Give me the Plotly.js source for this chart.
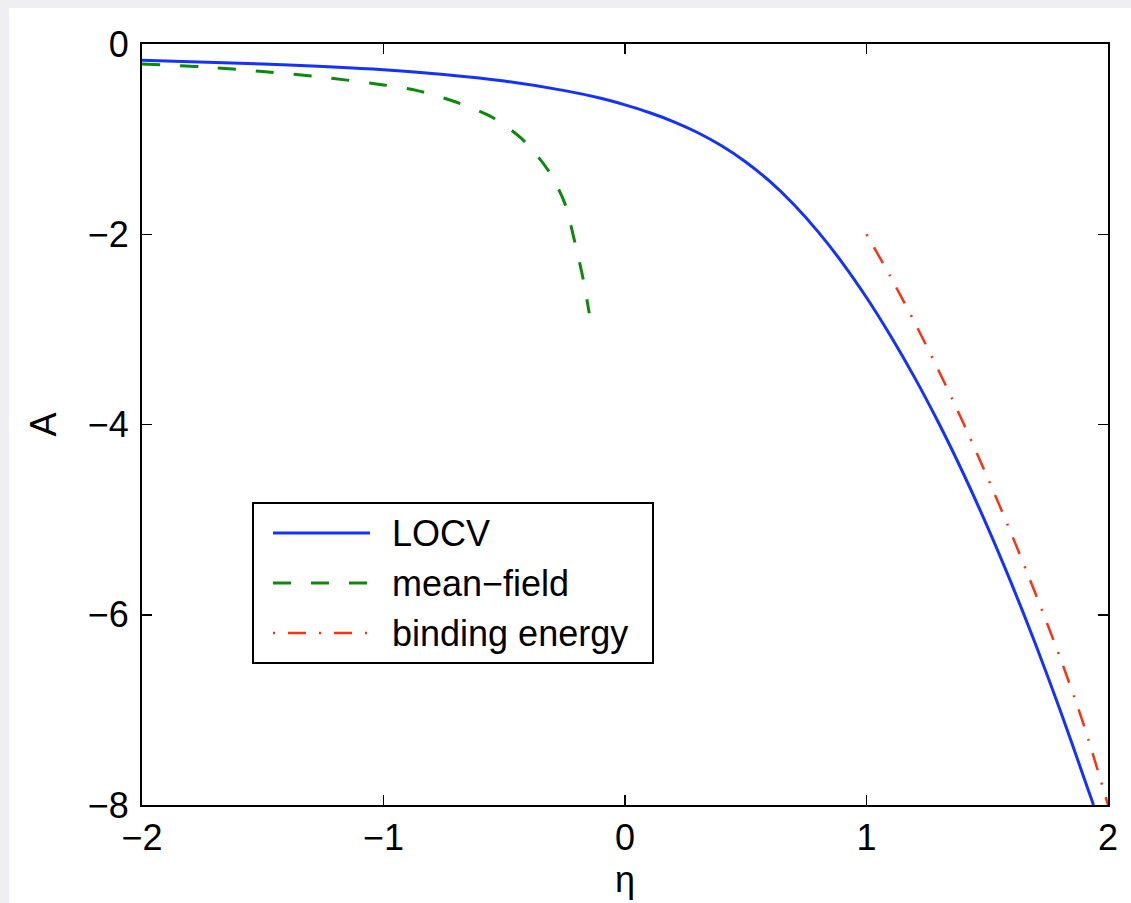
<!DOCTYPE html>
<html>
<head>
<meta charset="utf-8">
<script src="https://cdn.plot.ly/plotly-3.0.1.min.js"></script>
<style>
  html, body { margin: 0; padding: 0; background: #efeef3; width: 1131px; height: 903px; overflow: hidden; }
  #chart { position: absolute; left: 9px; top: 8px; width: 1122px; height: 895px; background: #ffffff; }
</style>
</head>
<body>
<div id="chart"></div>
<script>
// ---- data ----
const seriesNames = ["LOCV", "mean\u2212field", "binding energy"];

const etaLocv = [-2, -1.5, -1, -0.75, -0.5, -0.25, -0.1, 0, 0.1, 0.2, 0.3, 0.4, 0.5, 0.6, 0.7, 0.8, 0.9, 1.0, 1.1, 1.2, 1.3, 1.4, 1.5, 1.6, 1.7, 1.8, 1.9, 1.94];
const aLocv   = [-0.17, -0.21, -0.27, -0.32, -0.39, -0.49, -0.57, -0.64, -0.72, -0.815, -0.93, -1.07, -1.24, -1.445, -1.69, -1.975, -2.30, -2.665, -3.07, -3.51, -3.99, -4.51, -5.07, -5.67, -6.31, -6.99, -7.71, -8.0];

const etaMean = [-2, -1.75, -1.5, -1.25, -1.0, -0.86, -0.7, -0.55, -0.43, -0.32, -0.25, -0.21, -0.175, -0.148];
const aMean   = [-0.21, -0.24, -0.29, -0.35, -0.43, -0.49, -0.61, -0.77, -0.99, -1.32, -1.67, -2.06, -2.45, -2.83];

const etaBind = [1.0, 1.1, 1.2, 1.3, 1.4, 1.5, 1.6, 1.7, 1.8, 1.9, 2.0];
const aBind   = [-2.0, -2.45, -2.93, -3.44, -3.98, -4.55, -5.15, -5.78, -6.44, -7.16, -8.0];

const xTicks = [-2, -1, 0, 1, 2];
const yTicks = [-8, -6, -4, -2, 0];

// ---- styles ----
const styles = [
  { color: "#1432ff", width: 3, dash: "solid" },
  { color: "#0a8a0a", width: 3, dash: "18px,20px" },
  { color: "#ff3010", width: 2.5, dash: "2px,13px,18px,13px" }
];
const FONT = "Liberation Sans, Arial, Helvetica, sans-serif";

const traces = [
  { x: etaLocv, y: aLocv, name: seriesNames[0], mode: "lines", line: { color: styles[0].color, width: styles[0].width, dash: styles[0].dash, shape: "spline", smoothing: 0.8 } },
  { x: etaMean, y: aMean, name: seriesNames[1], mode: "lines", line: { color: styles[1].color, width: styles[1].width, dash: styles[1].dash, shape: "spline", smoothing: 0.8 } },
  { x: etaBind, y: aBind, name: seriesNames[2], mode: "lines", line: { color: styles[2].color, width: styles[2].width, dash: styles[2].dash, shape: "spline", smoothing: 0.8 } }
];

// custom legend box (paper coordinates)
const legBox = { x0: 0.1149, x1: 0.529, y0: 0.1866, y1: 0.3968 };
const legRows = [0.3574, 0.2917, 0.2260];
const legLineX = [0.1356, 0.2360];
const legTextX = 0.2570;

const shapes = [
  { type: "rect", xref: "paper", yref: "paper", x0: legBox.x0, x1: legBox.x1, y0: legBox.y0, y1: legBox.y1,
    line: { color: "#000", width: 2 }, fillcolor: "#ffffff", layer: "above" }
];
const annotations = [];
seriesNames.forEach((n, i) => {
  shapes.push({ type: "line", xref: "paper", yref: "paper", x0: legLineX[0], x1: legLineX[1], y0: legRows[i], y1: legRows[i],
    line: { color: styles[i].color, width: styles[i].width, dash: styles[i].dash }, layer: "above" });
  annotations.push({ xref: "paper", yref: "paper", x: legTextX, y: legRows[i], xanchor: "left", yanchor: "middle",
    text: n, showarrow: false, font: { family: FONT, size: 36, color: "#000" } });
});

const axisCommon = {
  showline: true, linecolor: "#000", linewidth: 2, mirror: "ticks",
  ticks: "inside", ticklen: 10, tickwidth: 1.5, tickcolor: "#000",
  showgrid: false, zeroline: false,
  tickfont: { family: FONT, size: 36, color: "#000" }
};

const layout = {
  width: 1122, height: 895,
  margin: { l: 133, r: 23, t: 36, b: 98 },
  paper_bgcolor: "#ffffff", plot_bgcolor: "#ffffff",
  showlegend: false,
  font: { family: FONT, color: "#000" },
  xaxis: Object.assign({}, axisCommon, {
    range: [-2, 2], tickvals: xTicks, ticktext: xTicks.map(v => v < 0 ? "\u2212" + Math.abs(v) : String(v)),
    title: { text: "\u03b7", font: { family: FONT, size: 36, color: "#000" }, standoff: 10 }
  }),
  yaxis: Object.assign({}, axisCommon, {
    range: [-8, 0], tickvals: yTicks, ticktext: yTicks.map(v => v < 0 ? "\u2212" + Math.abs(v) : String(v)),
    ticklabelstandoff: 4,
    title: { text: "A", font: { family: FONT, size: 36, color: "#000" }, standoff: 20 }
  }),
  shapes: shapes,
  annotations: annotations
};

Plotly.newPlot("chart", traces, layout, { displayModeBar: false, staticPlot: true });
</script>
</body>
</html>
